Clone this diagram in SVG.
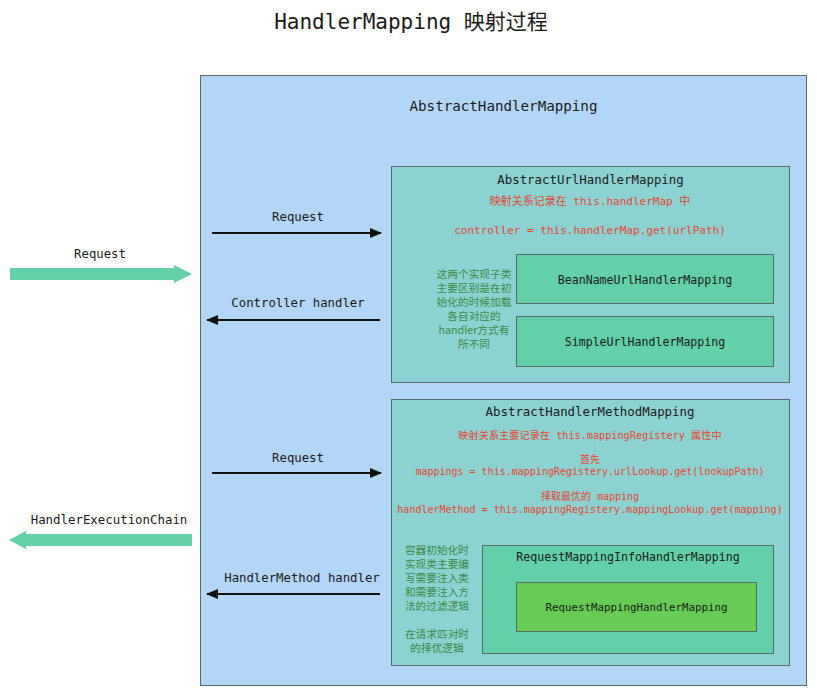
<svg xmlns="http://www.w3.org/2000/svg" width="817" height="693" viewBox="0 0 817 693">
<style>
.m{font-family:"DejaVu Sans Mono","Liberation Mono","Noto Sans CJK SC",monospace;text-anchor:middle;fill:#1a1a1a}
.r{font-family:"DejaVu Sans Mono","Liberation Mono","Noto Sans CJK SC",monospace;text-anchor:middle;fill:#e8452e}
.g{font-family:"Noto Sans CJK SC","DejaVu Sans",sans-serif;text-anchor:middle;fill:#3a8a44;font-size:10.7px}
.box{stroke:#5a6a6a;stroke-width:1}
.bl{stroke:#111;stroke-width:2;fill:none}
</style>
<defs>
<marker id="ah" markerWidth="12" markerHeight="10" refX="11" refY="5" orient="auto" markerUnits="userSpaceOnUse"><path d="M0,0 L12,5 L0,10 Z" fill="#111"/></marker>
</defs>
<rect width="817" height="693" fill="#fff"/>
<text class="m" x="411" y="29" font-size="21">HandlerMapping 映射过程</text>
<g id="abstract-handler-mapping">
<rect class="box" x="200.5" y="75.5" width="606" height="610" fill="#b2d6f8"/>
<text class="m" x="503.5" y="111" font-size="14.2">AbstractHandlerMapping</text>
</g>
<g id="abstract-url-handler-mapping">
<rect class="box" x="391.5" y="166.5" width="398" height="216" fill="#8cd2d2"/>
<text class="m" x="590.5" y="184" font-size="12.4">AbstractUrlHandlerMapping</text>
<text class="r" x="590" y="205" font-size="11">映射关系记录在 this.handlerMap 中</text>
<text class="r" x="590" y="234" font-size="11">controller = this.handlerMap.get(urlPath)</text>
<text class="g" x="474" y="278">这两个实现子类</text>
<text class="g" x="474" y="292">主要区别是在初</text>
<text class="g" x="474" y="306">始化的时候加载</text>
<text class="g" x="474" y="320">各自对应的</text>
<text class="g" x="474" y="334">handler方式有</text>
<text class="g" x="474" y="348">所不同</text>
</g>
<g id="bean-name-url-handler-mapping">
<rect class="box" x="516.5" y="254.5" width="257" height="49" fill="#62d0a8"/>
<text class="m" x="645" y="284" font-size="11.6">BeanNameUrlHandlerMapping</text>
</g>
<g id="simple-url-handler-mapping">
<rect class="box" x="516.5" y="316.5" width="257" height="50" fill="#62d0a8"/>
<text class="m" x="645" y="346" font-size="11.6">SimpleUrlHandlerMapping</text>
</g>
<g id="abstract-handler-method-mapping">
<rect class="box" x="391.5" y="399.5" width="398" height="266" fill="#8cd2d2"/>
<text class="m" x="590" y="416" font-size="12.4">AbstractHandlerMethodMapping</text>
<text class="r" x="590" y="439" font-size="10.2">映射关系主要记录在 this.mappingRegistery 属性中</text>
<text class="r" x="590" y="463" font-size="10">首先</text>
<text class="r" x="590" y="475" font-size="10">mappings = this.mappingRegistery.urlLookup.get(lookupPath)</text>
<text class="r" x="590" y="500" font-size="10">择取最优的 mapping</text>
<text class="r" x="590" y="513" font-size="10">handlerMethod = this.mappingRegistery.mappingLookup.get(mapping)</text>
<text class="g" x="437" y="554">容器初始化时</text>
<text class="g" x="437" y="568">实现类主要编</text>
<text class="g" x="437" y="582">写需要注入类</text>
<text class="g" x="437" y="596">和需要注入方</text>
<text class="g" x="437" y="610">法的过滤逻辑</text>
<text class="g" x="437" y="638">在请求匹对时</text>
<text class="g" x="437" y="652">的择优逻辑</text>
</g>
<g id="request-mapping-info-handler-mapping">
<rect class="box" x="482.5" y="545.5" width="291" height="108" fill="#62d0a8"/>
<text class="m" x="628" y="561" font-size="11.6">RequestMappingInfoHandlerMapping</text>
</g>
<g id="request-mapping-handler-mapping">
<rect class="box" x="516.5" y="582.5" width="240" height="49" fill="#66cc55"/>
<text class="m" x="636.5" y="611" font-size="10.8">RequestMappingHandlerMapping</text>
</g>
<g id="connectors">
<path d="M10,268 L174,268 L174,265 L192,274 L174,283 L174,280 L10,280 Z" fill="#64d0a8"/>
<path d="M192,534 L26,534 L26,531 L9,540 L26,549 L26,546 L192,546 Z" fill="#64d0a8"/>
<line class="bl" x1="212" y1="233" x2="381" y2="233" marker-end="url(#ah)"/>
<line class="bl" x1="380" y1="320" x2="207" y2="320" marker-end="url(#ah)"/>
<line class="bl" x1="212" y1="473" x2="381" y2="473" marker-end="url(#ah)"/>
<line class="bl" x1="380" y1="594" x2="207" y2="594" marker-end="url(#ah)"/>
<text class="m" x="100" y="258" font-size="12.3">Request</text>
<text class="m" x="109" y="524" font-size="12.4">HandlerExecutionChain</text>
<text class="m" x="298" y="221" font-size="12.3">Request</text>
<text class="m" x="298" y="307" font-size="12.3">Controller handler</text>
<text class="m" x="298" y="462" font-size="12.3">Request</text>
<text class="m" x="302" y="582" font-size="12.3">HandlerMethod handler</text>
</g>
</svg>
